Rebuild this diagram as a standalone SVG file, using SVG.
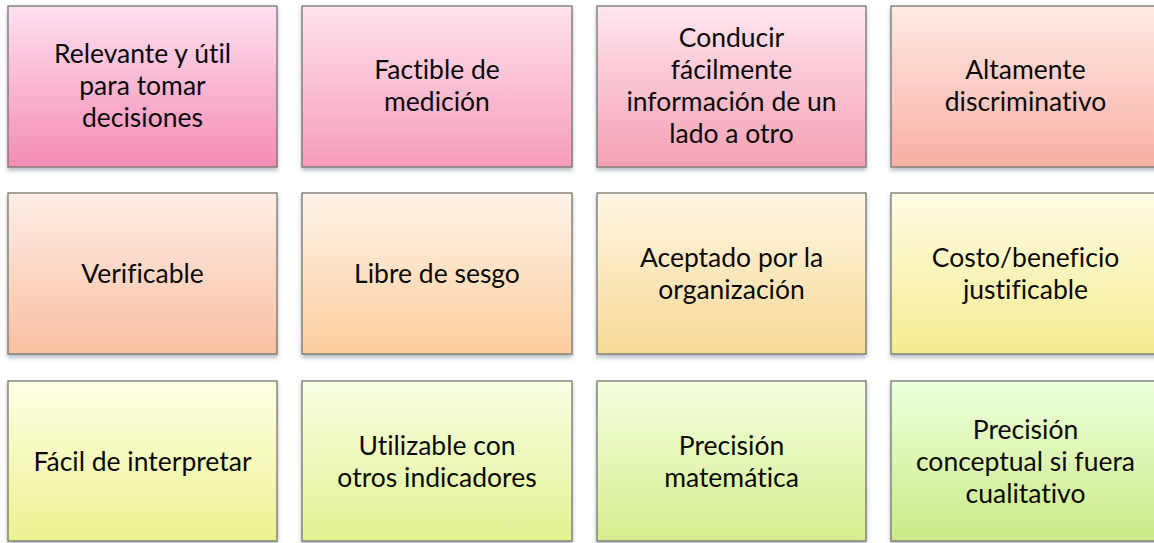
<svg xmlns="http://www.w3.org/2000/svg" width="1154" height="543" viewBox="0 0 1154 543">
<style>
.box{stroke:#77776e;stroke-width:1.3;filter:url(#sh)}
.t{font-family:Lato,"Open Sans","Liberation Sans",sans-serif;font-size:26.5px;fill:#0a0a0a;text-anchor:middle;font-variant-ligatures:none;font-feature-settings:"liga" 0}
</style>
<defs>
<filter id="sh" x="-5%" y="-5%" width="110%" height="115%">
<feDropShadow dx="0" dy="3" stdDeviation="2" flood-color="#5a6a78" flood-opacity="0.45"/>
</filter>
<linearGradient id="g1" x1="0" y1="0" x2="0" y2="1"><stop offset="0" stop-color="#FFE0F0"/><stop offset="1" stop-color="#F48CB6"/></linearGradient>
<linearGradient id="g2" x1="0" y1="0" x2="0" y2="1"><stop offset="0" stop-color="#FFE2EE"/><stop offset="1" stop-color="#F69CBA"/></linearGradient>
<linearGradient id="g3" x1="0" y1="0" x2="0" y2="1"><stop offset="0" stop-color="#FFE6EE"/><stop offset="1" stop-color="#F5A0B4"/></linearGradient>
<linearGradient id="g4" x1="0" y1="0" x2="0" y2="1"><stop offset="0" stop-color="#FFE9E6"/><stop offset="1" stop-color="#F8B0A4"/></linearGradient>
<linearGradient id="g5" x1="0" y1="0" x2="0" y2="1"><stop offset="0" stop-color="#FFEDE6"/><stop offset="1" stop-color="#F8C0A2"/></linearGradient>
<linearGradient id="g6" x1="0" y1="0" x2="0" y2="1"><stop offset="0" stop-color="#FFF3E8"/><stop offset="1" stop-color="#FCCE9E"/></linearGradient>
<linearGradient id="g7" x1="0" y1="0" x2="0" y2="1"><stop offset="0" stop-color="#FFF7E4"/><stop offset="1" stop-color="#F8D896"/></linearGradient>
<linearGradient id="g8" x1="0" y1="0" x2="0" y2="1"><stop offset="0" stop-color="#FFFCE4"/><stop offset="1" stop-color="#F4EC92"/></linearGradient>
<linearGradient id="g9" x1="0" y1="0" x2="0" y2="1"><stop offset="0" stop-color="#FFFFE6"/><stop offset="1" stop-color="#ECF290"/></linearGradient>
<linearGradient id="g10" x1="0" y1="0" x2="0" y2="1"><stop offset="0" stop-color="#F8FFE4"/><stop offset="1" stop-color="#E2F292"/></linearGradient>
<linearGradient id="g11" x1="0" y1="0" x2="0" y2="1"><stop offset="0" stop-color="#F4FFE0"/><stop offset="1" stop-color="#D6EE8E"/></linearGradient>
<linearGradient id="g12" x1="0" y1="0" x2="0" y2="1"><stop offset="0" stop-color="#EEFFDC"/><stop offset="1" stop-color="#CCEA88"/></linearGradient>
</defs>
<rect width="1154" height="543" fill="#ffffff"/>
<g id="connectors"></g>

<g id="n1"><rect class="box" x="8" y="6" width="269" height="161" fill="url(#g1)"/>
<text class="t"><tspan x="142.5" y="63">Relevante y útil</tspan><tspan x="142.5" y="95">para tomar</tspan><tspan x="142.5" y="127">decisiones</tspan></text></g>

<g id="n2"><rect class="box" x="302" y="6" width="270" height="161" fill="url(#g2)"/>
<text class="t"><tspan x="437" y="79">Factible de</tspan><tspan x="437" y="111">medición</tspan></text></g>

<g id="n3"><rect class="box" x="597" y="6" width="269" height="161" fill="url(#g3)"/>
<text class="t"><tspan x="731.5" y="47">Conducir</tspan><tspan x="731.5" y="79">fácilmente</tspan><tspan x="731.5" y="111">información de un</tspan><tspan x="731.5" y="143">lado a otro</tspan></text></g>

<g id="n4"><rect class="box" x="891" y="6" width="269" height="161" fill="url(#g4)"/>
<text class="t"><tspan x="1025.5" y="79">Altamente</tspan><tspan x="1025.5" y="111">discriminativo</tspan></text></g>

<g id="n5"><rect class="box" x="8" y="193" width="269" height="161" fill="url(#g5)"/>
<text class="t" x="142.5" y="283">Verificable</text></g>

<g id="n6"><rect class="box" x="302" y="193" width="270" height="161" fill="url(#g6)"/>
<text class="t" x="437" y="283">Libre de sesgo</text></g>

<g id="n7"><rect class="box" x="597" y="193" width="269" height="161" fill="url(#g7)"/>
<text class="t"><tspan x="731.5" y="267">Aceptado por la</tspan><tspan x="731.5" y="299">organización</tspan></text></g>

<g id="n8"><rect class="box" x="891" y="193" width="269" height="161" fill="url(#g8)"/>
<text class="t"><tspan x="1025.5" y="267">Costo/beneficio</tspan><tspan x="1025.5" y="299">justificable</tspan></text></g>

<g id="n9"><rect class="box" x="8" y="381" width="269" height="160" fill="url(#g9)"/>
<text class="t" x="142.5" y="471">Fácil de interpretar</text></g>

<g id="n10"><rect class="box" x="302" y="381" width="270" height="160" fill="url(#g10)"/>
<text class="t"><tspan x="437" y="455">Utilizable con</tspan><tspan x="437" y="487">otros indicadores</tspan></text></g>

<g id="n11"><rect class="box" x="597" y="381" width="269" height="160" fill="url(#g11)"/>
<text class="t"><tspan x="731.5" y="455">Precisión</tspan><tspan x="731.5" y="487">matemática</tspan></text></g>

<g id="n12"><rect class="box" x="891" y="381" width="269" height="160" fill="url(#g12)"/>
<text class="t"><tspan x="1025.5" y="439">Precisión</tspan><tspan x="1025.5" y="471">conceptual si fuera</tspan><tspan x="1025.5" y="503">cualitativo</tspan></text></g>
</svg>
